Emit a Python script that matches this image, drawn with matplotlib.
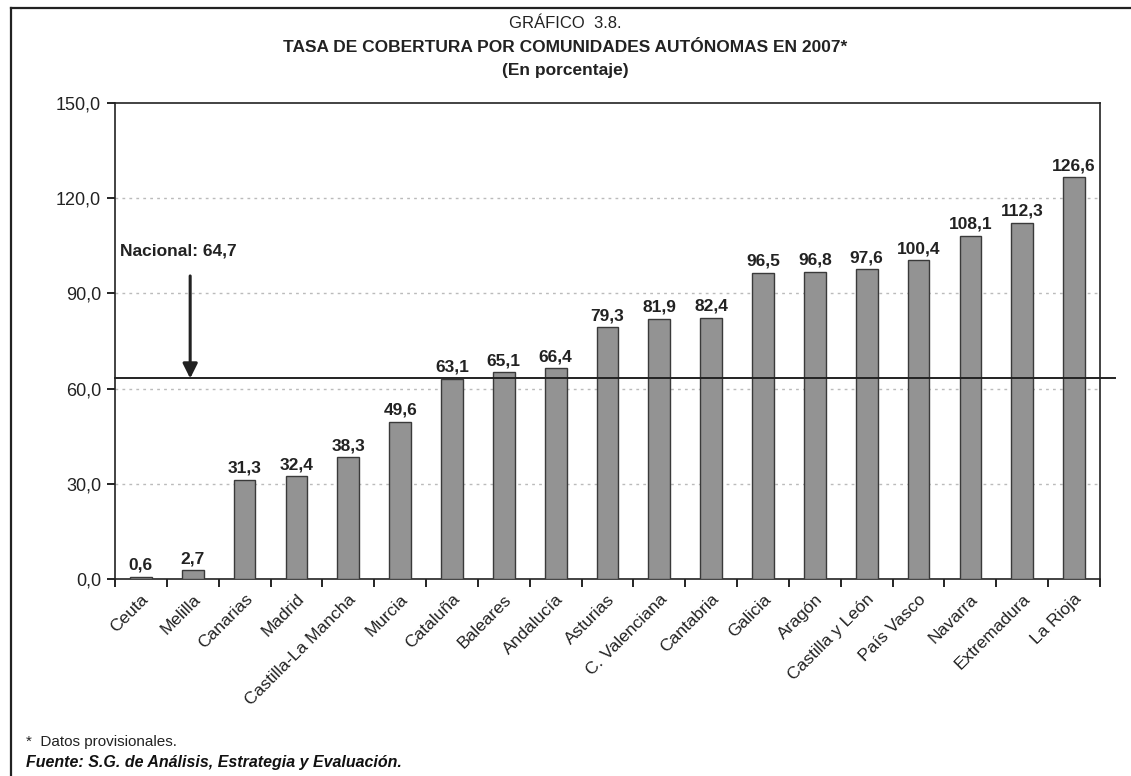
import matplotlib
matplotlib.use("Agg")
import matplotlib.pyplot as plt
from matplotlib.lines import Line2D

categories = ["Ceuta", "Melilla", "Canarias", "Madrid", "Castilla-La Mancha", "Murcia",
              "Cataluña", "Baleares", "Andalucía", "Asturias", "C. Valenciana", "Cantabria",
              "Galicia", "Aragón", "Castilla y León", "País Vasco", "Navarra", "Extremadura",
              "La Rioja"]
values = [0.6, 2.7, 31.3, 32.4, 38.3, 49.6, 63.1, 65.1, 66.4, 79.3, 81.9, 82.4,
          96.5, 96.8, 97.6, 100.4, 108.1, 112.3, 126.6]
yticks = [0, 30, 60, 90, 120, 150]
national_label = "Nacional: 64,7"
national_line = 63.2

plt.rcParams['font.family'] = ['Liberation Sans', 'DejaVu Sans']

fig = plt.figure(figsize=(11.31, 7.76), dpi=100)
ax = fig.add_axes([115/1131, 1-579/776, (1100-115)/1131, (579-103)/776])

x = list(range(len(categories)))
ax.bar(x, values, width=0.42, color='#939393', edgecolor='#3a3a3a', linewidth=1.0, zorder=3)
for xi, v in zip(x, values):
    ax.text(xi, v + 1.3, f"{v:.1f}".replace('.', ','), ha='center', va='bottom',
            fontsize=12.5, fontweight='bold', color='#222222', zorder=4)

ax.set_xlim(-0.5, len(categories) - 0.5)
ax.set_ylim(0, 150)
ax.set_yticks(yticks)
ax.set_yticklabels([f"{t:.1f}".replace('.', ',') for t in yticks], fontsize=13, color='#222222')
ax.tick_params(axis='y', direction='out', length=6, width=1.2, pad=4)
ax.set_xticks(x)
ax.set_xticklabels(categories, rotation=45, ha='right', rotation_mode='anchor', fontsize=12.5,
                   color='#222222')
ax.tick_params(axis='x', length=0, pad=9)
ax.set_xticks([i - 0.5 for i in range(len(categories) + 1)], minor=True)
ax.tick_params(axis='x', which='minor', direction='out', length=6, width=1.2)

for t in yticks[1:-1]:
    ax.axhline(t, color='#bbbbbb', linestyle=(0, (2, 3)), linewidth=1.0, zorder=1)
for s in ax.spines.values():
    s.set_linewidth(1.2)
    s.set_color('#222222')

ax.axhline(national_line, xmin=0, xmax=1.015, color='#222222', linewidth=1.4, zorder=5, clip_on=False)
ax.text(-0.4, 103.5, national_label, fontsize=12.5, fontweight='bold', ha='left', va='center',
        color='#222222')
ax.annotate("", xy=(0.95, national_line), xytext=(0.95, 95.5),
            arrowprops=dict(arrowstyle='-|>', color='#222222', lw=2.2, mutation_scale=22,
                            shrinkA=0, shrinkB=0), zorder=6)

fig.text(0.5, 1-23/776, "GRÁFICO  3.8.", ha='center', va='center', fontsize=12, color='#222222')
fig.text(0.5, 1-47/776, "TASA DE COBERTURA POR COMUNIDADES AUTÓNOMAS EN 2007*", ha='center',
         va='center', fontsize=12.5, fontweight='bold', color='#222222')
fig.text(0.5, 1-71/776, "(En porcentaje)", ha='center', va='center', fontsize=12.5,
         fontweight='bold', color='#222222')

fig.text(26/1131, 1-742/776, "*  Datos provisionales.", ha='left', va='center', fontsize=11,
         color='#222222')
fig.text(26/1131, 1-763/776, "Fuente: S.G. de Análisis, Estrategia y Evaluación.", ha='left',
         va='center', fontsize=11.5, fontweight='bold', fontstyle='italic', color='#111111')

fig.add_artist(Line2D([11/1131, 1.0], [1-7.5/776, 1-7.5/776], transform=fig.transFigure,
                      color='#222222', linewidth=1.6))
fig.add_artist(Line2D([11/1131, 11/1131], [1-7.5/776, 0.0], transform=fig.transFigure,
                      color='#222222', linewidth=1.6))

fig.savefig("out.png", dpi=100, facecolor='white')
